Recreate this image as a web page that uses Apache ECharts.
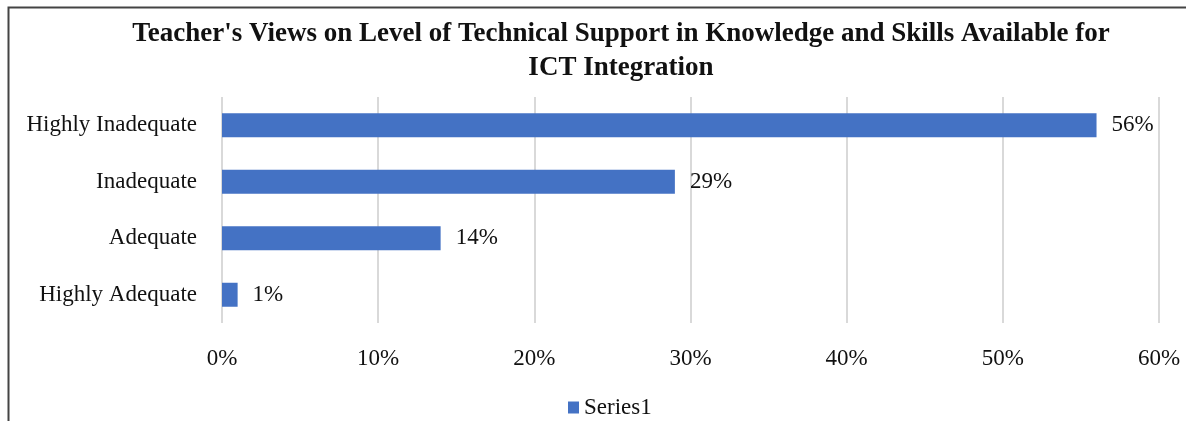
<!DOCTYPE html>
<html>
<head>
<meta charset="utf-8">
<style>
  html, body { margin: 0; padding: 0; background: #fff; }
  #chart { width: 1186px; height: 421px; }
</style>
<script src="https://cdn.jsdelivr.net/npm/echarts@6/dist/echarts.min.js"></script>
</head>
<body>
<div id="chart"></div>
<script>
let categories = ['Highly Adequate', 'Adequate', 'Inadequate', 'Highly Inadequate']
let values = [1, 14, 29, 56]
let tickLabels = ['0%', '10%', '20%', '30%', '40%', '50%', '60%']

let font = '"Liberation Serif", "Times New Roman", serif'

let chart = echarts.init(document.getElementById('chart'))
chart.setOption({
    animation: false,
    textStyle: { fontFamily: font },
    title: {
        text: "Teacher's Views on Level of Technical Support in Knowledge and Skills Available for\nICT Integration",
        left: 616,
        top: 12,
        textAlign: 'center',
        textStyle: { fontFamily: font, fontSize: 27, fontWeight: 'bold', color: '#111', lineHeight: 34 }
    },
    graphic: [{
        type: 'rect',
        shape: { x: 8.5, y: 7.5, width: 1200, height: 500 },
        style: { fill: 'none', stroke: '#444', lineWidth: 2 },
        silent: true
    }],
    legend: {
        top: 391,
        left: 563,
        itemWidth: 11,
        itemHeight: 12,
        itemGap: 4,
        icon: 'rect',
        textStyle: { fontFamily: font, fontSize: 23, color: '#111' },
        data: ['Series1']
    },
    grid: { left: 222, right: 27, top: 97, bottom: 98 },
    xAxis: {
        type: 'value',
        min: 0,
        max: 60,
        interval: 10,
        axisLine: { show: false },
        axisTick: { show: false },
        splitLine: { lineStyle: { color: '#d9d9d9', width: 2 } },
        axisLabel: {
            margin: 24,
            fontFamily: font,
            fontSize: 23,
            color: '#111',
            formatter: v => tickLabels[v / 10]
        }
    },
    yAxis: {
        type: 'category',
        data: categories,
        axisLine: { show: false },
        axisTick: { show: false },
        axisLabel: { margin: 25, fontFamily: font, fontSize: 23, color: '#111' }
    },
    series: [{
        name: 'Series1',
        type: 'bar',
        data: values,
        barWidth: 24,
        itemStyle: { color: '#4472C4' },
        label: {
            show: true,
            position: 'right',
            distance: 15,
            fontFamily: font,
            fontSize: 23,
            color: '#111',
            formatter: p => p.value + '%'
        }
    }]
})
</script>
</body>
</html>
